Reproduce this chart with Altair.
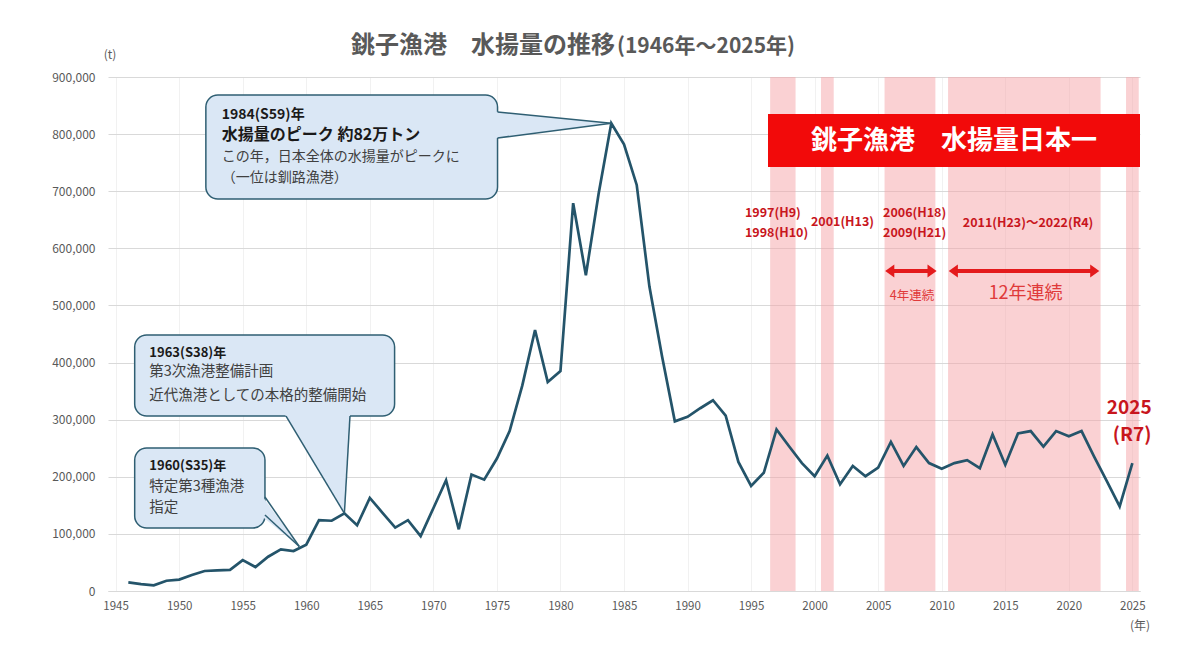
import altair as alt
import pandas as pd

# ---------------- data ----------------
years = list(range(1946, 2026))
landings = [
    15000, 12000, 10000, 18000, 20000, 28000, 35000, 36000, 37000, 54000,   # 1946-1955
    42000, 60000, 73000, 70000, 81000, 124000, 123000, 136000, 115000, 163000,  # 1956-1965
    137000, 111000, 124000, 96000, 145000, 194000, 108000, 204000, 195000, 232000,  # 1966-1975
    280000, 360000, 457000, 366000, 385000, 679000, 553000, 695000, 819000, 782000,  # 1976-1985
    711000, 533000, 410000, 297000, 305000, 320000, 334000, 307000, 226000, 184000,  # 1986-1995
    207000, 283000, 253000, 224000, 201000, 237000, 187000, 219000, 201000, 216000,  # 1996-2005
    261000, 219000, 252000, 224000, 214000, 224000, 229000, 215000, 274000, 221000,  # 2006-2015
    276000, 280000, 253000, 280000, 271000, 280000, 235000, 192000, 148000, 224000,  # 2016-2025
]
assert len(years) == len(landings)

# years in which Choshi was No.1 in Japan (runs: first / last year)
top_first = [1997, 2001, 2006, 2011, 2025]
top_last = [1998, 2001, 2009, 2022, 2025]

x_ticks = list(range(1945, 2026, 5))
y_ticks = list(range(0, 900001, 100000))

# ---------------- styles ----------------
FONT = "Noto Sans CJK JP"
LINE = "#24546A"
BOX_FILL = "#DAE7F5"
BOX_STROKE = "#2F5F73"
DARKRED = "#C8161D"
RED = "#E41A1C"
GREY = "#595959"

x_scale = alt.Scale(domain=[1944.4, 2025.6], nice=False, zero=False)
y_scale = alt.Scale(domain=[0, 900000], nice=False)

X_AXIS = alt.Axis(
    values=x_ticks, labelExpr="format(datum.value, 'd')", title=None, grid=True, gridColor="#F1F1F1",
    ticks=False, tickSize=0, domainColor="#D9D9D9", labelColor=GREY,
    labelFontSize=11.5, labelPadding=9, labelFont=FONT)
Y_AXIS = alt.Axis(
    values=y_ticks, labelExpr="format(datum.value, ',')", title=None, grid=True, gridColor="#D9D9D9",
    ticks=False, tickSize=0, domain=False, labelColor=GREY,
    labelFontSize=12, labelPadding=13, labelFont=FONT)


def X(f):
    return alt.X(f, scale=x_scale, axis=X_AXIS)


def Y(f):
    return alt.Y(f, scale=y_scale, axis=Y_AXIS)


def texts(xs, ys, labels, size, color, weight="normal", align="left", baseline="middle"):
    df = pd.DataFrame({"x": xs, "y": ys, "label": labels})
    return alt.Chart(df).mark_text(
        font=FONT, fontSize=size, color=color, fontWeight=weight,
        align=align, baseline=baseline
    ).encode(x=X("x:Q"), y=Y("y:Q"), text="label:N")


# ---------------- main line ----------------
df = pd.DataFrame({"year": years, "t": landings})
line = alt.Chart(df).mark_line(color=LINE, strokeWidth=2.7).encode(
    x=X("year:Q"), y=Y("t:Q")
)

# ---------------- No.1 bands ----------------
bands = alt.Chart(pd.DataFrame({"first": top_first, "last": top_last})).transform_calculate(
    x0="datum.first - 0.5", x1="datum.last + 0.5", y0="0", y1="900000"
).mark_rect(color="#F5A3A8", opacity=0.5).encode(
    x=X("x0:Q"), x2="x1:Q", y=Y("y0:Q"), y2="y1:Q"
)

# ---------------- banner ----------------
banner = alt.Chart(pd.DataFrame({"x0": [1996.33], "x1": [2025.6], "y0": [742400], "y1": [835200]})).mark_rect(
    color="#F20A0A"
).encode(x=X("x0:Q"), x2="x1:Q", y=Y("y0:Q"), y2="y1:Q")
banner_text = texts([2010.97], [788800], ["銚子漁港　水揚量日本一"], 26, "white", "bold", "center")

# ---------------- callouts ----------------
boxes = alt.Chart(pd.DataFrame({
    "x0": [1952.1, 1946.5, 1946.5],
    "x1": [1975.05, 1966.95, 1956.75],
    "y0": [686400, 306400, 110300],
    "y1": [868500, 448300, 250400],
})).mark_rect(cornerRadius=12, fill=BOX_FILL, stroke=BOX_STROKE, strokeWidth=1.5).encode(
    x=X("x0:Q"), x2="x1:Q", y=Y("y0:Q"), y2="y1:Q"
)

ptr1 = alt.Chart(pd.DataFrame({"x": [1974.75, 1984.0], "y": [839600, 819000], "y2": [792400, 819000]})).mark_area(
    orient="vertical", color=BOX_FILL, opacity=1
).encode(x=X("x:Q"), y=Y("y:Q"), y2="y2:Q")
ptr3 = alt.Chart(pd.DataFrame({"x": [1956.5, 1959.45], "y": [167000, 78000], "y2": [131000, 78000]})).mark_area(
    orient="vertical", color=BOX_FILL, opacity=1
).encode(x=X("x:Q"), y=Y("y:Q"), y2="y2:Q")
ptr2 = alt.Chart(pd.DataFrame({"y": [310000, 136000], "x": [1958.3, 1963.0], "x2": [1963.45, 1963.0]})).mark_area(
    orient="horizontal", color=BOX_FILL, opacity=1
).encode(y=Y("y:Q"), x=X("x:Q"), x2="x2:Q")

ptr_edges = alt.Chart(pd.DataFrame({
    "x": [1975.05, 1975.05, 1958.41, 1963.44, 1956.75, 1956.75],
    "y": [838700, 793200, 306400, 306400, 164600, 133100],
    "x2": [1984.0, 1984.0, 1963.0, 1963.0, 1959.45, 1959.45],
    "y2": [819000, 819000, 136000, 136000, 78000, 78000],
})).mark_rule(color=BOX_STROKE, strokeWidth=1.5).encode(
    x=X("x:Q"), x2="x2:Q", y=Y("y:Q"), y2="y2:Q"
)

c1_head = texts([1953.35], [833500], ["1984(S59)年"], 14, "#1A1A1A", "bold")
c1_big = texts([1953.35], [797600], ["水揚量のピーク 約82万トン"], 16, "#1A1A1A", "bold")
c1_body = texts([1953.35, 1953.35], [759900, 722300],
                ["この年，日本全体の水揚量がピークに", "（一位は釧路漁港）"], 14, "#404040")

c2_head = texts([1947.65], [416700], ["1963(S38)年"], 13, "#1A1A1A", "bold")
c2_body = texts([1947.65, 1947.65], [382600, 341400],
                ["第3次漁港整備計画", "近代漁港としての本格的整備開始"], 14.5, "#404040")

c3_head = texts([1947.65], [218900], ["1960(S35)年"], 13, "#1A1A1A", "bold")
c3_body = texts([1947.65, 1947.65], [181800, 145300], ["特定第3種漁港", "指定"], 14.5, "#404040")

# ---------------- red labels ----------------
red_left = texts([1994.52, 1994.52, 2005.38, 2005.38], [661900, 627700, 661900, 627700],
                 ["1997(H9)", "1998(H10)", "2006(H18)", "2009(H21)"], 12.5, DARKRED, "bold")
red_center = texts([2002.19, 2016.79], [646600, 644400],
                   ["2001(H13)", "2011(H23)～2022(R4)"], 12.5, DARKRED, "bold", "center")

ARROW_Y = 560300
arrow_df = pd.DataFrame({"x0": [2005.55, 2010.55], "x1": [2009.6, 2022.4], "y": [ARROW_Y, ARROW_Y]})
shaft = alt.Chart(arrow_df).transform_calculate(a="datum.x0 + 0.3", b="datum.x1 - 0.3").mark_rule(
    color=RED, strokeWidth=4
).encode(x=X("a:Q"), x2="b:Q", y=Y("y:Q"))
head_l = alt.Chart(arrow_df).transform_calculate(a="datum.x0 + 0.36").mark_point(
    shape="M0.7,-1L-0.7,0L0.7,1Z", filled=True, size=169, color=RED, opacity=1, strokeWidth=0
).encode(x=X("a:Q"), y=Y("y:Q"))
head_r = alt.Chart(arrow_df).transform_calculate(a="datum.x1 - 0.36").mark_point(
    shape="M-0.7,-1L0.7,0L-0.7,1Z", filled=True, size=169, color=RED, opacity=1, strokeWidth=0
).encode(x=X("a:Q"), y=Y("y:Q"))
run4 = texts([2007.66], [516500], ["4年連続"], 12.5, "#E03A3A", "normal", "center")
run12 = texts([2016.6], [520000], ["12年連続"], 18, "#E03A3A", "normal", "center")

label2025 = texts([2024.75, 2024.98], [320400, 273000], ["2025", "(R7)"], 19, DARKRED, "bold", "center")

# ---------------- title & units ----------------
title_a = texts([1984.29], [942000], ["銚子漁港　水揚量の推移"], 24, GREY, "bold", "right", "alphabetic")
title_b = texts([1984.45], [942000], ["(1946年～2025年)"], 21, GREY, "bold", "left", "alphabetic")
unit_t = texts([1944.56], [938500], ["(t)"], 12, GREY, "normal", "center")
unit_year = texts([2025.6], [-61300], ["(年)"], 12, GREY, "normal", "center")

chart = alt.layer(
    bands, banner, banner_text, line,
    boxes, ptr1, ptr2, ptr3, ptr_edges,
    c1_head, c1_big, c1_body, c2_head, c2_body, c3_head, c3_body,
    red_left, red_center, shaft, head_l, head_r, run4, run12, label2025,
    title_a, title_b, unit_t, unit_year,
).properties(
    width=1032, height=514,
    autosize=alt.AutoSizeParams(type="none"),
    padding={"left": 100, "top": 69, "right": 52, "bottom": 64},
    background="white",
).configure_view(stroke=None)

chart.save("out.html", embed_options={"renderer": "svg", "actions": False})
